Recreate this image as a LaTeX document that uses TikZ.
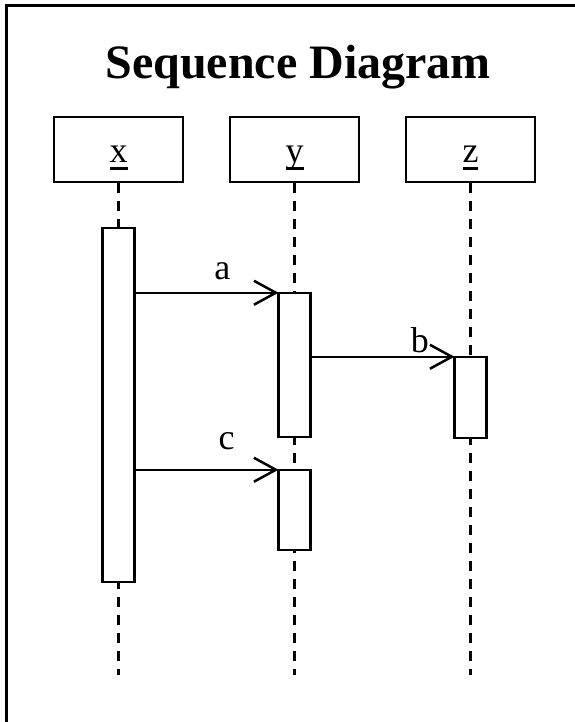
\documentclass[tikz,border=0pt]{standalone}
\usepackage{fontspec}
\setmainfont{Liberation Serif}
\usetikzlibrary{positioning}
\usetikzlibrary{arrows.meta}
\newcommand{\objname}[1]{\setbox0\hbox{#1}\rlap{\rule[-7pt]{\wd0}{3pt}}\box0}

\begin{document}
\begin{tikzpicture}[x=1pt, y=-1pt,
    headbox/.style={draw=black, line width=2.5pt, fill=white, minimum width=129pt, minimum height=65pt, text height=30pt, text depth=3pt, font=\fontsize{36}{40}\selectfont},
    actbox/.style={draw=black, line width=2.5pt, fill=white, minimum width=32pt, inner sep=0pt, outer sep=0pt},
    lifeline/.style={line width=3.3pt, dash pattern=on 10pt off 8pt},
    msg/.style={-{Straight Barb[length=22pt, width=24pt]}, line width=2.5pt},
    msglabel/.style={font=\fontsize{36}{40}\selectfont, above, inner sep=12pt}]
            \useasboundingbox (0,0) rectangle (574,722);
            \draw [line width=3pt] (6,740) -- (6,6) -- (590,6);
            \coordinate (bottom) at (0,675);

            \node [font=\fontsize{48}{56}\selectfont\bfseries, anchor=base] (title) at (298,79) {Sequence Diagram};

            \node [headbox] (x) at (118.5,149.5) {\objname{x}};
            \node [headbox, right=44.5pt of x] (y) {\objname{y}};
            \node [headbox, right=44.5pt of y] (z) {\objname{z}};

            % lifelines
            \draw [lifeline] (x.south) -- (x.south |- bottom);
            \draw [lifeline] (y.south) -- (y.south |- bottom);
            \draw [lifeline] (z.south) -- (z.south |- bottom);

            % activations
            \node [actbox, minimum height=354pt, below=44.5pt of x] (xact) {};
            \node [actbox, minimum height=144pt, below=109.5pt of y] (yfirst) {};
            \node [actbox, minimum height=80pt, below=33pt of yfirst] (ysecond) {};
            \node [actbox, minimum height=81pt, below=173.5pt of z] (zact) {};

            \path [msg] (xact.east |- yfirst.north) edge node [msglabel, pos=0.61] {a} (yfirst.north west);
            \path [msg] (yfirst.east |- zact.north) edge node [msglabel, pos=0.76, inner sep=3pt] {b} (zact.north west);
            \path [msg] (xact.east |- ysecond.north) edge node [msglabel, pos=0.64, inner sep=19pt] {c} (ysecond.north west);
\end{tikzpicture}
\end{document}
